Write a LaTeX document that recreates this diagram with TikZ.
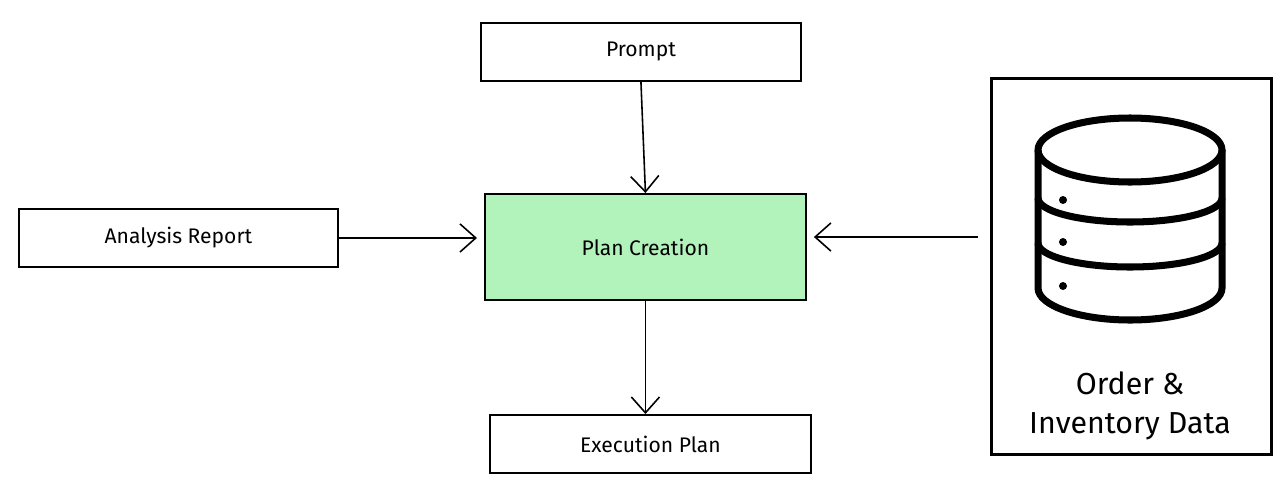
\documentclass[tikz,border=0pt]{standalone}
\usepackage{fontspec}
\setmainfont{Fira Sans}
\usetikzlibrary{arrows.meta}
\begin{document}
\begin{tikzpicture}[x=0.02cm,y=-0.02cm,
    box/.style = {rectangle, draw, line width=1.1pt, anchor=north west,
                  inner sep=0pt, font=\large},% plain boxes
    plan/.style = {box, fill=green!25!white},
    link/.style = {line width=0.9pt, -{Straight Barb[length=9pt,width=16pt]}},
                        ]
\useasboundingbox (0,0) rectangle (1283,487);
\node[box, minimum width=6.4cm, minimum height=1.16cm] (prompt) at (480,22) {Prompt};
\node[plan, minimum width=6.42cm, minimum height=2.12cm, fill={rgb,255:red,178;green,242;blue,187}] (plan) at (484,193) {Plan Creation};
\node[box, minimum width=6.38cm, minimum height=1.16cm] (report) at (18,208) {Analysis Report};
\node[box, minimum width=6.42cm, minimum height=1.16cm] (exec) at (489,414) {Execution Plan};
\node[box, line width=1.8pt, minimum width=5.6cm, minimum height=7.52cm] (data) at (990,77) {};
\node[font=\LARGE, align=center] (datatext) at (1130,406) {Order \&\\Inventory Data};
% database icon
\begin{scope}[line width=4pt, line join=round]
\draw (1130,150) ellipse [x radius=92, y radius=32];
\draw (1038,150) -- (1038,288) arc[start angle=180, end angle=0, x radius=92, y radius=32] -- (1222,150);
\draw (1038,198) arc[start angle=180, end angle=0, x radius=92, y radius=24];
\draw (1038,243) arc[start angle=180, end angle=0, x radius=92, y radius=24];
\foreach \y in {200,242,286}
    \fill (1063,\y) circle (4);
\end{scope}
\draw[link] (prompt.south) -- (plan.north);
\draw[link] (report.east) -- ([xshift=-4pt]plan.west |- report.east);
\coordinate (dataleft) at (978,237);
\draw[link] (dataleft) -- ([xshift=4pt]plan.east |- dataleft);
\draw[link] (plan.south) -- (exec.north -| plan.south);
\end{tikzpicture}
\end{document}
